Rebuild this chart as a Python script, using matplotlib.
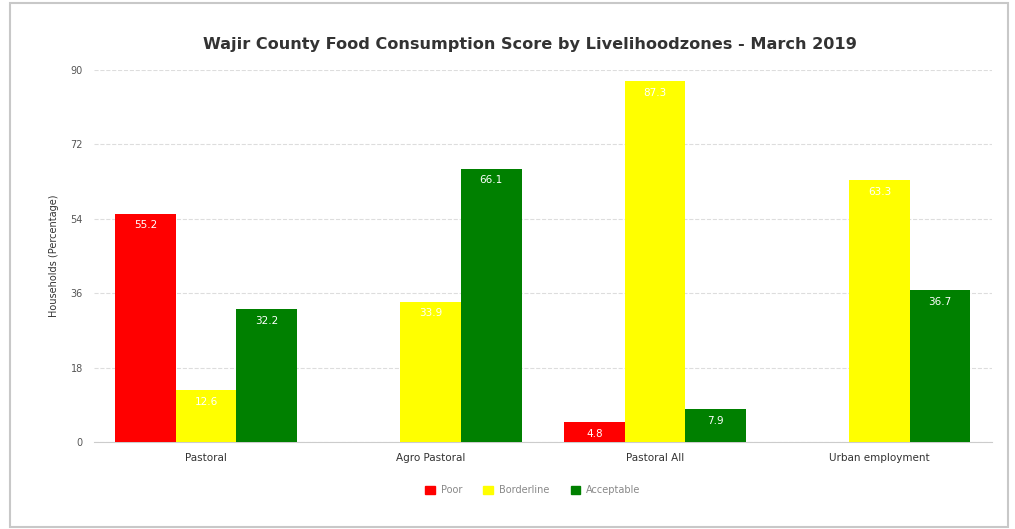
import numpy as np
import matplotlib
matplotlib.use("Agg")
import matplotlib.pyplot as plt
from matplotlib.patches import Rectangle, Patch

zones = ["Pastoral", "Agro Pastoral", "Pastoral All", "Urban employment"]
poor = [55.2, 0, 4.8, 0]
borderline = [12.6, 33.9, 87.3, 63.3]
acceptable = [32.2, 66.1, 7.9, 36.7]
yticks = [0, 18, 36, 54, 72, 90]

series = [("Poor", poor, "#ff0000"),
          ("Borderline", borderline, "#ffff00"),
          ("Acceptable", acceptable, "#008000")]

fig = plt.figure(figsize=(10.15, 5.29), dpi=100)
ax = fig.add_axes([0.0926, 0.1645, 0.8844, 0.7032])

# outer frame
fig.patches.append(Rectangle((0.01, 0.004), 0.983, 0.99, transform=fig.transFigure,
                             fill=False, edgecolor="#c8c8c8", lw=1.5))

x = np.arange(len(zones))
w = 0.27
for i, (name, vals, col) in enumerate(series):
    pos = x + (i - 1) * w
    bars = ax.bar(pos, vals, width=w, color=col, zorder=3)
    for p, v in zip(pos, vals):
        if v > 0:
            ax.text(p, v - 1.6, f"{v:.1f}", ha="center", va="top", color="white",
                    fontsize=7.5, zorder=4)

ax.set_xlim(-0.5, len(zones) - 0.5)
ax.set_ylim(0, 90)
ax.set_yticks(yticks)
ax.set_yticklabels([str(t) for t in yticks], fontsize=7, color="#555555")
ax.set_xticks(x)
ax.set_xticklabels(zones, fontsize=7.5, color="#333333")
ax.tick_params(axis="both", length=0, pad=8)
ax.grid(axis="y", color="#dddddd", linestyle="--", lw=0.8, zorder=0)
for s in ["top", "right", "left"]:
    ax.spines[s].set_visible(False)
ax.spines["bottom"].set_color("#cccccc")
ax.set_ylabel("Households (Percentage)", fontsize=7, color="#333333", labelpad=8)
fig.text(0.522, 0.915, "Wajir County Food Consumption Score by Livelihoodzones - March 2019",
         ha="center", va="center", fontsize=11.6, fontweight="bold", color="#333333")

handles = [Patch(color=c, label=n) for n, _, c in series]
leg = fig.legend(handles=handles, loc="center", bbox_to_anchor=(0.525, 0.073), ncol=3,
                 frameon=False, fontsize=7, handlelength=1.0, handleheight=0.9,
                 columnspacing=2.2, handletextpad=0.6)
for t in leg.get_texts():
    t.set_color("#888888")

fig.savefig("out.png", dpi=100)
